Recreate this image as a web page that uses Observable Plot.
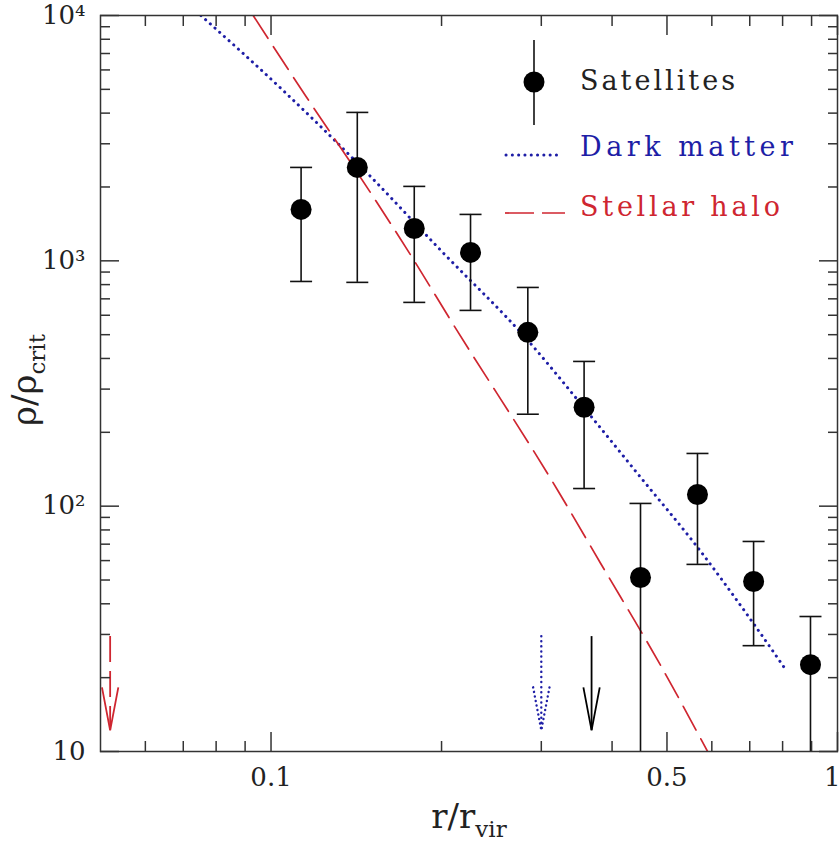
<!DOCTYPE html>
<html><head><meta charset="utf-8">
<script src="https://cdn.jsdelivr.net/npm/d3@7"></script>
<script src="https://cdn.jsdelivr.net/npm/@observablehq/plot@0.6"></script>
<style>
html,body{margin:0;padding:0;background:#fff;}
#chart{width:840px;height:848px;}
</style></head><body><div id="chart"></div>
<script>
// Satellites (binned density with error bars)
const satR   = [0.113, 0.142, 0.179, 0.225, 0.284, 0.357, 0.449, 0.566, 0.711, 0.896];
const satRho = [1620, 2403, 1355, 1082, 511, 253, 51.2, 111.6, 49.3, 22.6];
const satHi  = [2403, 4027, 2011, 1546, 779, 389, 102.6, 164, 71.8, 35.5];
const satLo  = [824, 817, 677, 628, 237, 118, 5, 57.9, 27.0, 5];

// Dark matter profile (dotted)
const dmR   = [0.0752, 0.1041, 0.1423, 0.1994, 0.284, 0.3565, 0.4494, 0.5663, 0.711, 0.8098];
const dmRho = [10000, 5045, 2495, 1103, 474, 252.6, 130.9, 67.9, 33.2, 21.6];

// Stellar halo profile (dashed)
const shR   = [0.093, 0.1153, 0.1412, 0.1788, 0.2077, 0.3208, 0.3819, 0.4874, 0.5898];
const shRho = [10000, 4677, 2336, 1004, 571, 115.9, 58.4, 22.4, 10];

// Half-mass radius arrows
const arrowNames = ["Stellar halo", "Dark matter", "Satellites"];
const arrowR = [0.052, 0.3, 0.368];
const arrowTop = [29.4, 29.4, 29.4];
const arrowTip = [12.2, 12.2, 12.2];

// Ticks
const xMajor = [0.1, 0.5, 1];
const xMinor = [0.06, 0.07, 0.08, 0.09, 0.2, 0.3, 0.4, 0.6, 0.7, 0.8, 0.9];
const xTickLabels = ["0.1", "0.5", "1"];
const yMajor = [10, 100, 1000, 10000];
const yMinor = [20, 30, 40, 50, 60, 70, 80, 90, 200, 300, 400, 500, 600, 700, 800, 900,
                2000, 3000, 4000, 5000, 6000, 7000, 8000, 9000];
const yTickLabels = ["10", "10²", "10³", "10⁴"];

const legendLabels = ["Satellites", "Dark matter", "Stellar halo"];

const BLUE = "#1e1ea6", RED = "#cf2630", INK = "#222", AX = "#333";

const sats = satR.map((r, i) => ({r, rho: satRho[i], hi: satHi[i], lo: satLo[i]}));
const dm = dmR.map((r, i) => ({r, rho: dmRho[i]}));
const sh = shR.map((r, i) => ({r, rho: shRho[i]}));
const arrows = arrowR.map((r, i) => ({name: arrowNames[i], r, top: arrowTop[i], tip: arrowTip[i]}));

const capSym = {draw(ctx, size) { const r = Math.sqrt(size / Math.PI); ctx.moveTo(-r, 0); ctx.lineTo(r, 0); }};
const headSym = {draw(ctx, size) { const L = Math.sqrt(size / Math.PI); ctx.moveTo(-0.19 * L, -L); ctx.lineTo(0, 0); ctx.lineTo(0.19 * L, -L); }};

const DOTS = {strokeWidth: 3, strokeDasharray: "0.1,6.2", strokeLinecap: "round"};
const arrowStyle = {
  "Stellar halo": {stroke: RED, shaft: {strokeWidth: 1.8, strokeDasharray: "26,9"}, head: {strokeWidth: 1.8}},
  "Dark matter": {stroke: BLUE, shaft: {strokeWidth: 2.4, strokeDasharray: "0.1,5", strokeLinecap: "round"}, head: {strokeWidth: 2.4, strokeDasharray: "0.1,4.5", strokeLinecap: "round"}},
  "Satellites": {stroke: "#000", shaft: {strokeWidth: 1.8}, head: {strokeWidth: 1.8}}
};

const tickAx = (anchor, ticks, size, isX) => (isX ? Plot.axisX : Plot.axisY)({
  anchor, ticks, tickSize: -size, fill: "none", stroke: AX, strokeWidth: 1.5, label: null
});

const plot = Plot.plot({
  width: 840, height: 848,
  marginLeft: 100, marginRight: 3, marginTop: 15, marginBottom: 97,
  style: {fontFamily: "DejaVu Serif", fontSize: "26px", background: "#fff", color: INK},
  x: {type: "log", domain: [0.05, 1], label: null},
  y: {type: "log", domain: [10, 10000], label: null},
  marks: [
    Plot.line(dm, {x: "r", y: "rho", stroke: BLUE, ...DOTS, curve: "monotone-x", clip: true}),
    Plot.line(sh, {x: "r", y: "rho", stroke: RED, strokeWidth: 1.7, strokeDasharray: "27,10", curve: "monotone-x", clip: true}),
    Plot.ruleX(sats, {x: "r", y1: "lo", y2: "hi", stroke: "#111", strokeWidth: 1.6, clip: true}),
    Plot.dot(sats, {x: "r", y: "hi", symbol: capSym, r: 11, stroke: "#111", strokeWidth: 1.6}),
    Plot.dot(sats.filter(d => d.lo >= 10), {x: "r", y: "lo", symbol: capSym, r: 11, stroke: "#111", strokeWidth: 1.6}),
    Plot.dot(sats, {x: "r", y: "rho", r: 10.5, fill: "#000", stroke: null}),
    ...arrows.map(a => Plot.ruleX([a], {x: "r", y1: "top", y2: "tip", stroke: arrowStyle[a.name].stroke, ...arrowStyle[a.name].shaft})),
    ...arrows.map(a => Plot.dot([a], {x: "r", y: "tip", symbol: headSym, r: 43, fill: "none", stroke: arrowStyle[a.name].stroke, ...arrowStyle[a.name].head})),
    // inward ticks on all four sides
    tickAx("bottom", xMajor, 19, true), tickAx("bottom", xMinor, 10, true),
    tickAx("top", xMajor, 19, true), tickAx("top", xMinor, 10, true),
    tickAx("left", yMajor, 19, false), tickAx("left", yMinor, 10, false),
    tickAx("right", yMajor, 19, false), tickAx("right", yMinor, 10, false),
    // tick labels
    Plot.axisX({anchor: "bottom", ticks: xMajor.slice(0, 2), tickSize: 0, tickPadding: 16, stroke: "none", fill: INK,
      tickFormat: d => xTickLabels[xMajor.indexOf(d)], label: null}),
    Plot.axisX({anchor: "bottom", ticks: xMajor.slice(2), tickSize: 0, tickPadding: 16, stroke: "none", fill: INK,
      tickFormat: d => xTickLabels[xMajor.indexOf(d)], textAnchor: "end", dx: 3, label: null}),
    Plot.axisY({anchor: "left", ticks: yMajor, tickSize: 0, tickPadding: 15, stroke: "none", fill: INK,
      tickFormat: d => yTickLabels[yMajor.indexOf(d)], label: null}),
    Plot.frame({stroke: AX, strokeWidth: 1.5})
  ]
});

document.getElementById("chart").appendChild(plot);

// Axis titles and legend
const svg = d3.select(plot);
const fam = "DejaVu Serif";
const xl = svg.append("text").attr("x", 469).attr("y", 828).attr("text-anchor", "middle")
  .attr("font-family", fam).attr("font-size", 34).attr("fill", INK).text("r/r");
xl.append("tspan").attr("dy", 9).attr("font-size", 23).text("vir");

const yl = svg.append("text").attr("transform", "translate(36,380) rotate(-90)").attr("text-anchor", "middle")
  .attr("font-family", fam).attr("font-size", 34).attr("fill", INK).text("ρ/ρ");
yl.append("tspan").attr("dy", 9).attr("font-size", 23).text("crit");

const lg = svg.append("g").attr("font-family", fam).attr("font-size", 27).attr("text-anchor", "start");
lg.append("line").attr("x1", 534).attr("x2", 534).attr("y1", 40).attr("y2", 125).attr("stroke", "#111").attr("stroke-width", 1.6);
lg.append("circle").attr("cx", 534).attr("cy", 82).attr("r", 10.5).attr("fill", "#000");
lg.append("text").attr("x", 580).attr("y", 90).attr("fill", INK).attr("textLength", 155).attr("lengthAdjust", "spacing").text(legendLabels[0]);
lg.append("line").attr("x1", 506).attr("x2", 562).attr("y1", 155).attr("y2", 155).attr("stroke", BLUE).attr("stroke-width", 3).attr("stroke-dasharray", "0.1,6.2").attr("stroke-linecap", "round");
lg.append("text").attr("x", 580).attr("y", 156).attr("fill", BLUE).attr("textLength", 213).attr("lengthAdjust", "spacing").text(legendLabels[1]);
lg.append("line").attr("x1", 505).attr("x2", 565).attr("y1", 213).attr("y2", 213).attr("stroke", RED).attr("stroke-width", 1.7).attr("stroke-dasharray", "29,8");
lg.append("text").attr("x", 580).attr("y", 216).attr("fill", RED).attr("textLength", 200).attr("lengthAdjust", "spacing").text(legendLabels[2]);
</script>
</body></html>
